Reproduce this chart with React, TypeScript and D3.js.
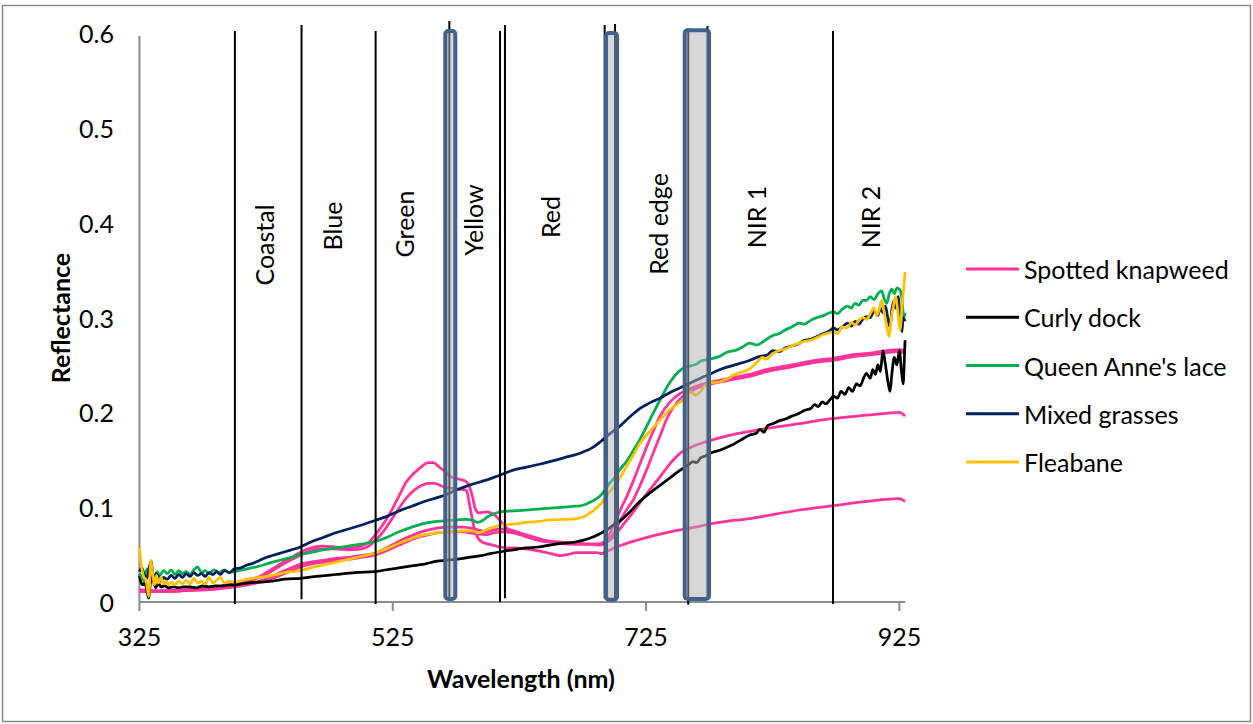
import React from "react";
import * as d3 from "d3";

const W = 1253;
const H = 724;
const FONT = "Lato, 'Open Sans', sans-serif";

const xTicks = [325, 525, 725, 925];
const yTicks = [0, 0.1, 0.2, 0.3, 0.4, 0.5, 0.6];
const yTickLabels = ["0", "0.1", "0.2", "0.3", "0.4", "0.5", "0.6"];

// [wavelength nm, reflectance]
const spottedA: [number, number][] = [
  [325, 0.013], [340, 0.012], [360, 0.013], [380, 0.015], [400, 0.019], [410, 0.022], [420, 0.027], [430, 0.035],
  [440, 0.043], [450, 0.051], [460, 0.057], [470, 0.059], [480, 0.058], [490, 0.057], [500, 0.059], [506, 0.063],
  [512, 0.072], [518, 0.083], [523, 0.094], [530, 0.112], [536, 0.127], [542, 0.136], [548, 0.143], [553, 0.147],
  [557, 0.147], [562, 0.142], [567, 0.137], [571, 0.132], [576, 0.13], [583, 0.127], [586, 0.12], [588, 0.111],
  [590, 0.099], [593, 0.094], [599, 0.095], [604, 0.093], [607, 0.09], [611, 0.084], [615, 0.078], [620, 0.075],
  [625, 0.073], [635, 0.069], [645, 0.065], [655, 0.062], [665, 0.061], [675, 0.061], [685, 0.061], [690, 0.062],
  [694, 0.066], [697, 0.074], [700, 0.083], [705, 0.098], [710, 0.112], [715, 0.128], [720, 0.145], [725, 0.162],
  [730, 0.178], [736, 0.196], [744, 0.211], [752, 0.22], [760, 0.225], [768, 0.229], [780, 0.233], [795, 0.237],
  [807, 0.24], [820, 0.245], [840, 0.25], [860, 0.255], [873, 0.257], [890, 0.261], [905, 0.263], [915, 0.265],
  [925, 0.266], [929.5, 0.265],
];
const spottedB: [number, number][] = [
  [325, 0.012], [340, 0.011], [360, 0.012], [380, 0.014], [400, 0.018], [410, 0.021], [420, 0.026], [430, 0.033],
  [440, 0.041], [450, 0.048], [460, 0.054], [470, 0.056], [480, 0.056], [490, 0.055], [500, 0.056], [506, 0.059],
  [512, 0.066], [518, 0.075], [523, 0.085], [530, 0.099], [536, 0.11], [542, 0.118], [548, 0.123], [553, 0.125],
  [558, 0.125], [564, 0.122], [570, 0.12], [576, 0.119], [583, 0.118], [586, 0.1], [589, 0.08], [592, 0.068],
  [596, 0.063], [604, 0.06], [610, 0.058], [615, 0.057], [622, 0.057], [630, 0.056], [640, 0.054], [650, 0.051],
  [657, 0.049], [663, 0.05], [670, 0.052], [680, 0.052], [686, 0.052], [690, 0.051], [693, 0.053], [697, 0.055],
  [700, 0.057], [708, 0.061], [715, 0.064], [728, 0.069], [744, 0.074], [760, 0.078], [783, 0.084], [807, 0.088],
  [846, 0.097], [875, 0.102], [899, 0.106], [925, 0.109], [929.5, 0.106],
];
const spottedC: [number, number][] = [
  [325, 0.012], [340, 0.011], [360, 0.012], [380, 0.014], [400, 0.017], [410, 0.019], [420, 0.022], [430, 0.027],
  [436, 0.031], [445, 0.036], [452, 0.04], [460, 0.042], [470, 0.044], [480, 0.046], [490, 0.047], [500, 0.049],
  [512, 0.052], [520, 0.057], [530, 0.064], [540, 0.07], [550, 0.075], [560, 0.078], [570, 0.079], [580, 0.079],
  [590, 0.077], [599, 0.074], [605, 0.076], [610, 0.077], [620, 0.075], [630, 0.07], [640, 0.066], [650, 0.064],
  [660, 0.063], [670, 0.062], [680, 0.061], [688, 0.061], [693, 0.063], [697, 0.068], [700, 0.074], [705, 0.087],
  [710, 0.098], [715, 0.108], [720, 0.122], [725, 0.138], [730, 0.155], [736, 0.175], [742, 0.195], [748, 0.208],
  [754, 0.217], [760, 0.222], [768, 0.227], [780, 0.231], [795, 0.235], [807, 0.238], [820, 0.243], [840, 0.248],
  [860, 0.253], [873, 0.255], [890, 0.259], [905, 0.261], [915, 0.263], [925, 0.264], [929.5, 0.262],
];
const spottedD: [number, number][] = [
  [325, 0.011], [340, 0.011], [360, 0.012], [380, 0.013], [400, 0.016], [410, 0.018], [420, 0.021], [430, 0.025],
  [436, 0.028], [445, 0.033], [452, 0.037], [460, 0.04], [470, 0.042], [480, 0.044], [490, 0.045], [500, 0.047],
  [512, 0.05], [520, 0.054], [530, 0.06], [540, 0.066], [550, 0.07], [560, 0.073], [570, 0.074], [580, 0.074],
  [590, 0.072], [599, 0.071], [605, 0.073], [610, 0.074], [620, 0.073], [630, 0.069], [640, 0.065], [650, 0.063],
  [660, 0.062], [670, 0.061], [680, 0.061], [688, 0.06], [693, 0.062], [698, 0.067], [703, 0.075], [709, 0.085],
  [715, 0.095], [722, 0.108], [729, 0.12], [736, 0.132], [744, 0.146], [752, 0.157], [760, 0.163], [770, 0.168],
  [783, 0.173], [795, 0.177], [807, 0.18], [825, 0.184], [846, 0.188], [870, 0.193], [899, 0.197], [915, 0.199],
  [925, 0.2], [929.5, 0.196],
];
const curlyDock: [number, number][] = [
  [325, 0.028], [326, 0.022], [327.5, 0.018], [329, 0.02], [330.5, 0.015], [331.5, 0.008], [332.5, 0.004], [333.5, 0.018],
  [335, 0.03], [336.5, 0.02], [338, 0.015], [340, 0.02], [342, 0.016], [345, 0.017], [348, 0.015], [352, 0.016],
  [356, 0.015], [360, 0.016], [365, 0.016], [370, 0.015], [375, 0.017], [380, 0.016], [385, 0.017], [390, 0.017],
  [395, 0.018], [400, 0.018], [410, 0.02], [420, 0.021], [430, 0.022], [440, 0.024], [452, 0.025], [465, 0.027],
  [480, 0.029], [495, 0.031], [511, 0.032], [520, 0.034], [530, 0.036], [540, 0.038], [550, 0.04], [560, 0.043],
  [567, 0.044], [575, 0.045], [585, 0.047], [595, 0.049], [602, 0.051], [610, 0.053], [620, 0.055], [630, 0.057],
  [640, 0.058], [649, 0.06], [660, 0.062], [668, 0.063], [675, 0.065], [682, 0.068], [688.6, 0.072], [694, 0.076],
  [698, 0.08], [704, 0.085], [710, 0.092], [715, 0.099], [720, 0.106], [728, 0.115], [736, 0.123], [744, 0.131],
  [752, 0.139], [758, 0.144], [762, 0.148], [765, 0.147], [768, 0.152], [772, 0.154], [776, 0.157], [783, 0.16],
  [790, 0.164], [795, 0.167], [800, 0.171], [807, 0.176], [812, 0.178], [815, 0.182], [818, 0.179], [821, 0.186],
  [825, 0.188], [830, 0.191], [835, 0.193], [840, 0.196], [846, 0.199], [850, 0.202], [855, 0.204], [858, 0.208],
  [861, 0.206], [864, 0.211], [867, 0.209], [870, 0.213], [873, 0.217], [876, 0.215], [879, 0.222], [882, 0.219],
  [885, 0.226], [888, 0.222], [891, 0.23], [894, 0.228], [897, 0.237], [899, 0.241], [902, 0.236], [904, 0.245],
  [906, 0.24], [908, 0.25], [910, 0.243], [912, 0.265], [914, 0.25], [916, 0.232], [917.6, 0.222], [919, 0.24],
  [921, 0.258], [923, 0.25], [925, 0.265], [926.5, 0.245], [928, 0.23], [929, 0.26], [929.5, 0.276],
];
const queenAnnesLace: [number, number][] = [
  [325, 0.03], [327, 0.026], [329, 0.022], [331, 0.035], [333, 0.028], [335, 0.03], [337, 0.024], [339, 0.032],
  [341, 0.028], [344, 0.033], [347, 0.03], [350, 0.034], [353, 0.029], [356, 0.033], [359, 0.03], [362, 0.032],
  [365, 0.029], [368, 0.034], [371, 0.037], [374, 0.031], [377, 0.033], [380, 0.03], [384, 0.034], [388, 0.031],
  [392, 0.034], [396, 0.031], [400, 0.032], [410, 0.035], [420, 0.038], [430, 0.042], [436, 0.044], [445, 0.047],
  [452, 0.05], [460, 0.052], [470, 0.055], [480, 0.057], [490, 0.059], [500, 0.061], [512, 0.064], [520, 0.068],
  [530, 0.074], [540, 0.079], [550, 0.083], [560, 0.085], [570, 0.086], [583, 0.087], [588, 0.086], [592, 0.084],
  [596, 0.086], [600, 0.09], [605, 0.093], [610, 0.095], [620, 0.096], [630, 0.097], [640, 0.098], [649, 0.099],
  [660, 0.1], [670, 0.101], [675, 0.102], [682, 0.106], [688, 0.111], [692, 0.117], [696, 0.125], [700, 0.131],
  [704, 0.139], [710, 0.149], [715, 0.16], [720, 0.171], [728, 0.192], [736, 0.213], [744, 0.232], [750, 0.242],
  [755, 0.247], [760, 0.249], [765, 0.251], [768, 0.254], [775, 0.256], [783, 0.259], [790, 0.264], [795, 0.265],
  [800, 0.268], [807, 0.273], [812, 0.271], [818, 0.275], [825, 0.281], [830, 0.283], [835, 0.287], [840, 0.29],
  [846, 0.294], [850, 0.293], [855, 0.297], [860, 0.3], [865, 0.302], [870, 0.305], [873, 0.306], [876, 0.304],
  [880, 0.309], [884, 0.312], [887, 0.31], [890, 0.315], [893, 0.313], [896, 0.318], [899, 0.318], [902, 0.322],
  [905, 0.319], [908, 0.325], [911, 0.328], [913, 0.32], [915, 0.315], [917, 0.325], [919, 0.33], [921, 0.325],
  [923, 0.331], [925, 0.33], [927, 0.32], [928.5, 0.3], [929.5, 0.305],
];
const mixedGrasses: [number, number][] = [
  [325, 0.032], [327, 0.036], [329, 0.028], [331, 0.025], [333, 0.038], [334.5, 0.043], [336, 0.022], [338, 0.03],
  [340, 0.027], [342, 0.022], [344, 0.026], [347, 0.024], [350, 0.028], [353, 0.025], [356, 0.029], [359, 0.026],
  [362, 0.03], [365, 0.027], [368, 0.031], [371, 0.028], [374, 0.03], [377, 0.027], [380, 0.031], [383, 0.029],
  [386, 0.032], [389, 0.029], [392, 0.033], [396, 0.031], [400, 0.035], [405, 0.036], [410, 0.039], [415, 0.041],
  [420, 0.044], [425, 0.047], [430, 0.049], [435, 0.051], [440, 0.053], [445, 0.055], [450, 0.057], [460, 0.063],
  [470, 0.068], [480, 0.073], [490, 0.077], [500, 0.081], [511, 0.086], [520, 0.09], [530, 0.096], [540, 0.101],
  [550, 0.106], [560, 0.11], [567, 0.113], [575, 0.118], [585, 0.123], [595, 0.127], [600, 0.129], [610, 0.134],
  [620, 0.139], [630, 0.142], [640, 0.145], [649, 0.148], [660, 0.152], [675, 0.158], [683, 0.163], [689, 0.169],
  [696, 0.177], [704, 0.185], [712, 0.195], [720, 0.204], [728, 0.21], [736, 0.215], [744, 0.221], [752, 0.226],
  [760, 0.231], [768, 0.236], [775, 0.24], [783, 0.245], [795, 0.25], [807, 0.255], [815, 0.259], [820, 0.26],
  [825, 0.265], [830, 0.264], [835, 0.268], [840, 0.27], [845, 0.272], [850, 0.276], [855, 0.277], [860, 0.28],
  [865, 0.283], [870, 0.286], [873, 0.289], [876, 0.287], [880, 0.29], [884, 0.294], [887, 0.291], [890, 0.296],
  [893, 0.293], [896, 0.298], [899, 0.301], [902, 0.3], [905, 0.307], [908, 0.302], [910, 0.31], [912, 0.305],
  [914, 0.312], [916, 0.298], [917.6, 0.29], [919, 0.308], [921, 0.318], [922, 0.31], [924, 0.322], [925.5, 0.3],
  [927, 0.285], [928, 0.3], [929.5, 0.296],
];
const fleabane: [number, number][] = [
  [325, 0.057], [326, 0.045], [327, 0.035], [328.5, 0.026], [330, 0.024], [331.5, 0.012], [332.5, 0.006], [334, 0.044],
  [335.5, 0.03], [337, 0.018], [338.5, 0.028], [340, 0.02], [342, 0.026], [344, 0.019], [346, 0.022], [348, 0.018],
  [350, 0.021], [353, 0.018], [356, 0.022], [359, 0.019], [362, 0.023], [365, 0.019], [368, 0.025], [371, 0.02],
  [374, 0.022], [377, 0.019], [380, 0.026], [383, 0.02], [386, 0.023], [389, 0.026], [392, 0.02], [396, 0.022],
  [400, 0.021], [410, 0.024], [420, 0.026], [430, 0.028], [436, 0.03], [445, 0.032], [452, 0.033], [460, 0.036],
  [470, 0.039], [480, 0.042], [490, 0.045], [500, 0.048], [512, 0.052], [520, 0.056], [530, 0.062], [540, 0.067],
  [550, 0.071], [560, 0.073], [570, 0.074], [580, 0.075], [588, 0.075], [592, 0.073], [596, 0.074], [600, 0.077],
  [605, 0.079], [610, 0.081], [620, 0.082], [630, 0.084], [640, 0.085], [649, 0.0865], [660, 0.087], [670, 0.088],
  [676, 0.09], [682, 0.095], [688, 0.102], [692, 0.108], [696, 0.116], [700, 0.122], [704, 0.13], [710, 0.144],
  [715, 0.155], [720, 0.167], [728, 0.18], [736, 0.192], [744, 0.203], [752, 0.211], [756, 0.215], [758, 0.222],
  [761, 0.221], [764, 0.218], [768, 0.222], [772, 0.229], [776, 0.231], [783, 0.232], [790, 0.236], [795, 0.24],
  [800, 0.242], [807, 0.246], [812, 0.252], [817, 0.258], [820, 0.256], [825, 0.262], [830, 0.265], [835, 0.267],
  [840, 0.27], [846, 0.273], [850, 0.275], [855, 0.276], [860, 0.279], [865, 0.282], [870, 0.284], [873, 0.285],
  [876, 0.283], [880, 0.29], [884, 0.289], [887, 0.295], [890, 0.292], [893, 0.297], [896, 0.3], [899, 0.298],
  [902, 0.304], [905, 0.31], [907, 0.302], [909, 0.308], [911, 0.318], [913, 0.305], [915, 0.29], [917, 0.28],
  [918.5, 0.298], [920, 0.31], [922, 0.322], [924, 0.303], [925.5, 0.287], [927, 0.31], [928.5, 0.333], [929.5, 0.348],
];

const seriesNames = ["Spotted knapweed", "Curly dock", "Queen Anne's lace", "Mixed grasses", "Fleabane"];
const seriesColors = ["#ff3399", "#000000", "#00b050", "#002060", "#ffc000"];
const seriesData = [[spottedA, spottedB, spottedC, spottedD], [curlyDock], [queenAnnesLace], [mixedGrasses], [fleabane]];

// band separator lines: [nm, top reflectance, bottom reflectance]
const bandLines: [number, number, number][] = [
  [400.4, 0.602, -0.002], [453, 0.6085, 0.003], [511.5, 0.602, -0.002], [569.7, 0.6127, 0.002],
  [609.7, 0.602, 0], [613.6, 0.6085, 0.004], [692.3, 0.6085, 0.004], [700.5, 0.6096, 0.004],
  [758.3, 0.605, -0.003], [773.5, 0.6075, 0.004], [872.6, 0.602, -0.002],
];
// highlighted boxes: [nm start, nm end, top, bottom]
const boxes: [number, number, number, number][] = [
  [566.5, 574.4, 0.602, 0.0032],
  [693.4, 702.1, 0.6, 0.0024],
  [755.5, 774.7, 0.603, 0.0032],
];
const bandLabels = ["Coastal", "Blue", "Green", "Yellow", "Red", "Red edge", "NIR 1", "NIR 2"];
const bandLabelNm = [423.5, 477, 533.8, 588.4, 649.2, 734.4, 811.7, 901.7];
const bandLabelY = [0.3765, 0.3965, 0.3986, 0.4028, 0.406, 0.3986, 0.406, 0.406];

export default function App() {
  const x = d3.scaleLinear().domain([325, 925]).range([139.4, 899.4]);
  const y = d3.scaleLinear().domain([0, 0.6]).range([602, 33]);
  const line = d3
    .line<[number, number]>()
    .x((d) => x(d[0]))
    .y((d) => y(d[1]))
    .curve(d3.curveMonotoneX);

  const fs = 25;
  return (
    <div style={{ position: "absolute", left: 0, top: 0 }}>
      <svg width={W} height={H} style={{ display: "block", background: "#fff" }} fontFamily={FONT}>
        <rect x={2.5} y={5.5} width={1248} height={716} fill="#fff" stroke="#8c8c8c" strokeWidth={1.5} />
        {/* axes */}
        <line x1={x(325)} x2={x(325)} y1={y(0.597)} y2={y(0)} stroke="#8c8c8c" strokeWidth={2} />
        <line x1={x(325)} x2={x(929.7)} y1={y(0)} y2={y(0)} stroke="#8c8c8c" strokeWidth={2} />
        {xTicks.map((t) => (
          <g key={t}>
            <line x1={x(t)} x2={x(t)} y1={y(0)} y2={y(0) + 9} stroke="#8c8c8c" strokeWidth={2} />
            <text x={x(t)} y={636} textAnchor="middle" dominantBaseline="central" fontSize={fs}>
              {t}
            </text>
          </g>
        ))}
        {yTicks.map((t, i) => (
          <text key={t} x={114} y={y(t)} textAnchor="end" dominantBaseline="central" fontSize={fs}>
            {yTickLabels[i]}
          </text>
        ))}
        <text x={521} y={678} textAnchor="middle" dominantBaseline="central" fontSize={fs} fontWeight="bold">
          Wavelength (nm)
        </text>
        <text
          transform={`translate(60,318) rotate(-90)`}
          textAnchor="middle"
          dominantBaseline="central"
          fontSize={fs}
          fontWeight="bold"
        >
          Reflectance
        </text>
        {/* series */}
        {seriesData.map((group, gi) =>
          group.map((d, k) => (
            <path
              key={`${gi}-${k}`}
              d={line(d) || ""}
              fill="none"
              stroke={seriesColors[gi]}
              strokeWidth={2.75}
              strokeLinejoin="round"
            />
          ))
        )}
        {/* band lines */}
        {bandLines.map(([nm, t, b], i) => (
          <line key={i} x1={x(nm)} x2={x(nm)} y1={y(t)} y2={y(b)} stroke="#000" strokeWidth={2} />
        ))}
        {/* boxes */}
        {boxes.map(([a, b, t, bo], i) => (
          <rect
            key={i}
            x={x(a)}
            y={y(t)}
            width={x(b) - x(a)}
            height={y(bo) - y(t)}
            rx={3}
            fill="rgba(176,176,176,0.5)"
            stroke="#41628d"
            strokeWidth={4}
          />
        ))}
        {/* band labels */}
        {bandLabels.map((lab, i) => (
          <text
            key={lab}
            transform={`translate(${x(bandLabelNm[i])},${y(bandLabelY[i])}) rotate(-90)`}
            textAnchor="middle"
            dominantBaseline="central"
            fontSize={fs}
          >
            {lab}
          </text>
        ))}
        {/* legend */}
        {seriesNames.map((n, i) => {
          const ly = 269 + i * 48.25;
          return (
            <g key={n}>
              <line x1={966} x2={1019} y1={ly} y2={ly} stroke={seriesColors[i]} strokeWidth={3} />
              <text x={1024} y={ly} dominantBaseline="central" fontSize={fs}>
                {n}
              </text>
            </g>
          );
        })}
      </svg>
    </div>
  );
}
